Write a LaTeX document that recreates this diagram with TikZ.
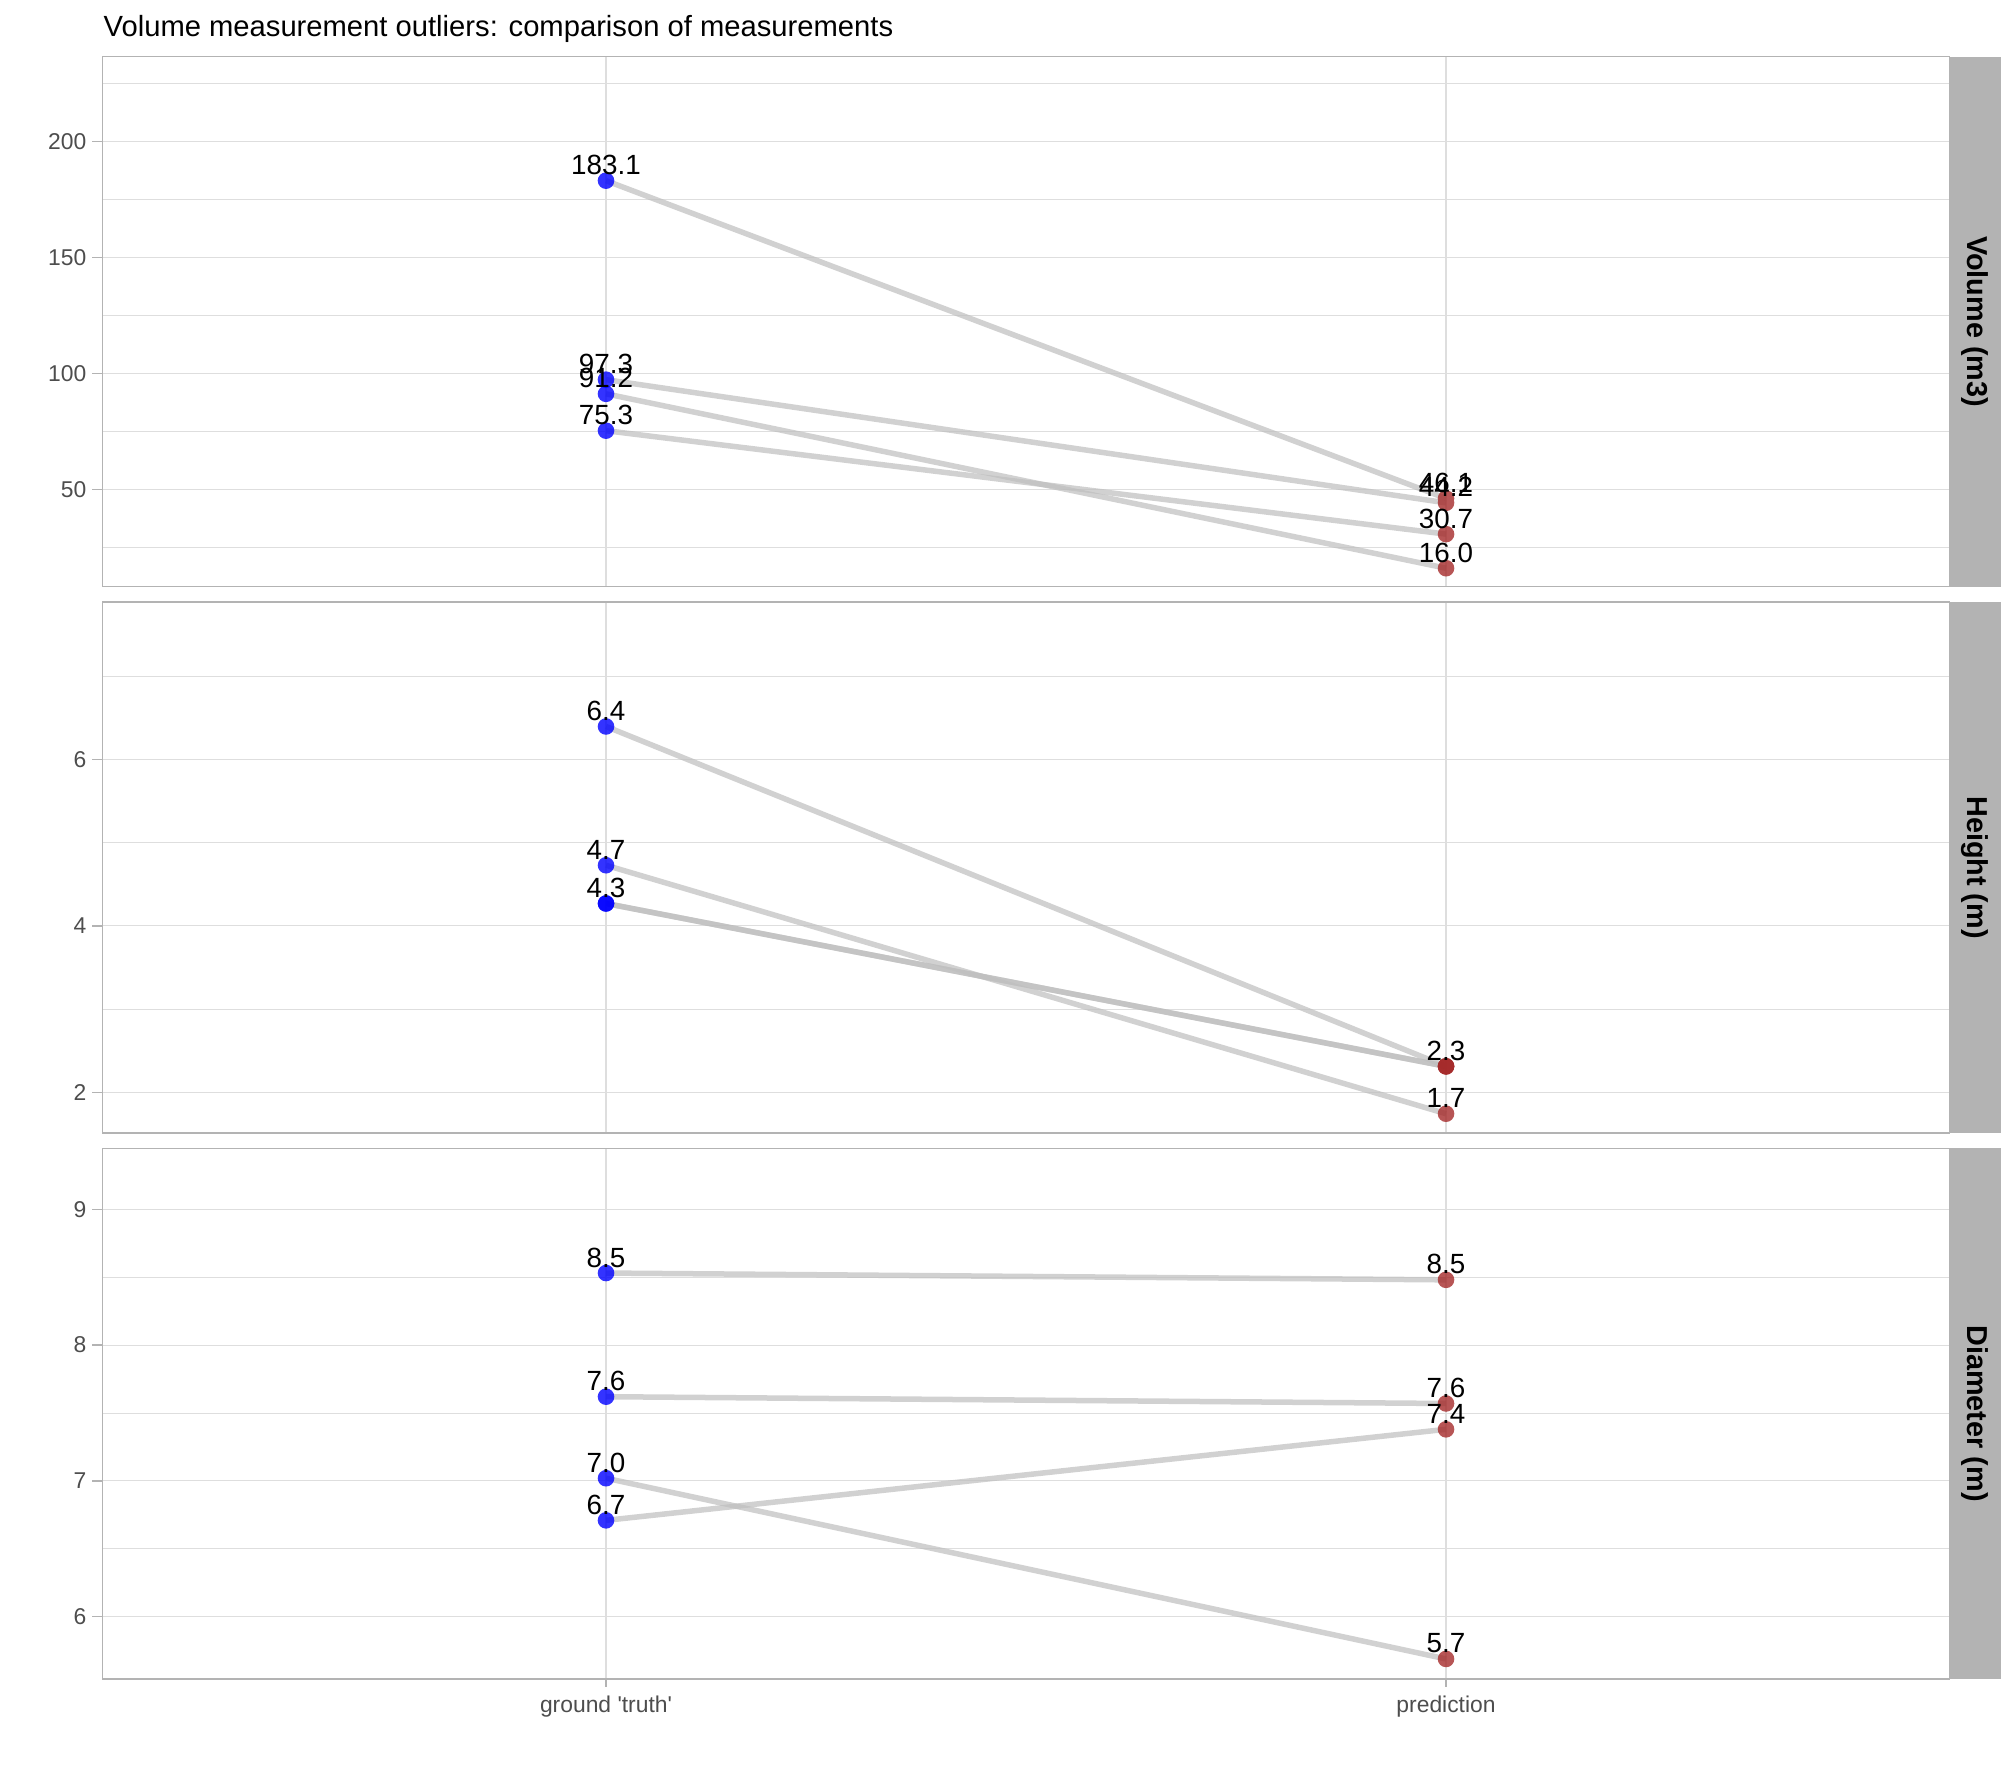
\documentclass[tikz,border=0pt]{standalone}
\usepackage{fontspec}
\setmainfont{Liberation Sans}
\usepackage{tikz}
\definecolor{gtblue}{RGB}{0,0,255}
\definecolor{prbrown}{RGB}{165,42,42}
\definecolor{seggray}{RGB}{190,190,190}
\definecolor{gridgray}{RGB}{222,222,222}
\definecolor{framegray}{RGB}{179,179,179}
\definecolor{ticktext}{RGB}{77,77,77}
\tikzstyle{frame} = [draw=framegray, line width=0.013cm]
\tikzstyle{strip} = [fill=framegray]
\tikzstyle{major} = [draw=gridgray, line width=0.011cm]
\tikzstyle{minor} = [draw=gridgray, line width=0.009cm]
\tikzstyle{tick} = [draw=framegray, line width=0.012cm]
\tikzstyle{seg} = [draw=seggray, draw opacity=0.7, line width=0.055cm]
\tikzstyle{gt} = [fill=gtblue, fill opacity=0.8]
\tikzstyle{pr} = [fill=prbrown, fill opacity=0.8]
\tikzstyle{lbl} = [anchor=base, inner sep=0pt, yshift=0.06cm, font=\fontsize{7.9}{9}\selectfont]
\tikzstyle{ytick} = [anchor=east, inner sep=0pt, text=ticktext, font=\fontsize{6.5}{8}\selectfont]
\tikzstyle{xtick} = [anchor=base, inner sep=0pt, text=ticktext, font=\fontsize{6.5}{8}\selectfont]
\tikzstyle{title} = [anchor=base west, inner sep=0pt, font=\fontsize{8.3}{10}\selectfont]
\tikzstyle{striptext} = [rotate=-90, inner sep=0pt, font=\bfseries\fontsize{8.2}{10}\selectfont]

\begin{document}
\begin{tikzpicture}[x=0.01cm,y=0.01cm]
  \def\xl{102.7}
  \def\xr{1949.3}
  \def\xg{606}
  \def\xp{1446}
  \useasboundingbox (0,0) rectangle (2016,1766);
  \node[title] (title) at (103,1729) {Volume measurement outliers: comparison of measurements};

  % volume panel
  \begin{scope}[yshift=11.6cm,y=0.02318cm]
    \draw[minor] (\xl,25) -- (\xr,25) (\xl,75) -- (\xr,75) (\xl,125) -- (\xr,125) (\xl,175) -- (\xr,175) (\xl,225) -- (\xr,225);
    \draw[major] (\xl,50) -- (\xr,50) (\xl,100) -- (\xr,100) (\xl,150) -- (\xr,150) (\xl,200) -- (\xr,200);
    \draw[major] (\xg,8.1) -- (\xg,236.5) (\xp,8.1) -- (\xp,236.5);
    \draw[tick] (92.4,50) -- (\xl,50) (92.4,100) -- (\xl,100) (92.4,150) -- (\xl,150) (92.4,200) -- (\xl,200);
    \node[ytick] (v50) at (87,50) {50};
    \node[ytick] (v100) at (87,100) {100};
    \node[ytick] (v150) at (87,150) {150};
    \node[ytick] (v200) at (87,200) {200};
    \coordinate (v1g) at (\xg,183.1);
    \coordinate (v2g) at (\xg,97.3);
    \coordinate (v3g) at (\xg,91.2);
    \coordinate (v4g) at (\xg,75.3);
    \coordinate (v1p) at (\xp,46.1);
    \coordinate (v2p) at (\xp,44.2);
    \coordinate (v3p) at (\xp,16.0);
    \coordinate (v4p) at (\xp,30.7);
    \draw[seg] (v1g) -- (v1p);
    \draw[seg] (v2g) -- (v2p);
    \draw[seg] (v3g) -- (v3p);
    \draw[seg] (v4g) -- (v4p);
    \fill[gt] (v1g) circle (0.083cm) (v2g) circle (0.083cm);
    \fill[gt] (v3g) circle (0.083cm) (v4g) circle (0.083cm);
    \fill[pr] (v1p) circle (0.083cm) (v2p) circle (0.083cm);
    \fill[pr] (v3p) circle (0.083cm) (v4p) circle (0.083cm);
    \node[lbl] (v1gt) at (v1g) {183.1};
    \node[lbl] (v2gt) at (v2g) {97.3};
    \node[lbl] (v3gt) at (v3g) {91.2};
    \node[lbl] (v4gt) at (v4g) {75.3};
    \node[lbl] (v1pt) at (v1p) {46.1};
    \node[lbl] (v2pt) at (v2p) {44.2};
    \node[lbl] (v3pt) at (v3p) {16.0};
    \node[lbl] (v4pt) at (v4p) {30.7};
    \fill[strip] (\xr,8.1) rectangle (2001,236.5);
    \draw[frame] (\xl,8.1) rectangle (\xr,236.5);
    \node[striptext] (vstrip) at (1975,122.3) {Volume (m3)};
  \end{scope}

  % height panel
  \begin{scope}[yshift=5.074cm,y=0.8305cm]
    \draw[minor] (\xl,3) -- (\xr,3) (\xl,5) -- (\xr,5) (\xl,7) -- (\xr,7);
    \draw[major] (\xl,2) -- (\xr,2) (\xl,4) -- (\xr,4) (\xl,6) -- (\xr,6);
    \draw[major] (\xg,1.5075) -- (\xg,7.899) (\xp,1.5075) -- (\xp,7.899);
    \draw[tick] (92.4,2) -- (\xl,2) (92.4,4) -- (\xl,4) (92.4,6) -- (\xl,6);
    \node[ytick] (h2) at (87,2) {2};
    \node[ytick] (h4) at (87,4) {4};
    \node[ytick] (h6) at (87,6) {6};
    \coordinate (h1g) at (\xg,6.40);
    \coordinate (h2g) at (\xg,4.73);
    \coordinate (h3g) at (\xg,4.27);
    \coordinate (h4g) at (\xg,4.27);
    \coordinate (h1p) at (\xp,2.31);
    \coordinate (h2p) at (\xp,1.74);
    \coordinate (h3p) at (\xp,2.31);
    \coordinate (h4p) at (\xp,2.31);
    \draw[seg] (h1g) -- (h1p);
    \draw[seg] (h2g) -- (h2p);
    \draw[seg] (h3g) -- (h3p);
    \draw[seg] (h4g) -- (h4p);
    \fill[gt] (h1g) circle (0.083cm) (h2g) circle (0.083cm);
    \fill[gt] (h3g) circle (0.083cm);
    \fill[gt] (h4g) circle (0.083cm);
    \fill[pr] (h1p) circle (0.083cm) (h2p) circle (0.083cm);
    \fill[pr] (h3p) circle (0.083cm);
    \fill[pr] (h4p) circle (0.083cm);
    \node[lbl] (h1gt) at (h1g) {6.4};
    \node[lbl] (h2gt) at (h2g) {4.7};
    \node[lbl] (h3gt) at (h3g) {4.3};
    \node[lbl] (h1pt) at (h1p) {2.3};
    \node[lbl] (h2pt) at (h2p) {1.7};
    \fill[strip] (\xr,1.5075) rectangle (2001,7.899);
    \draw[frame] (\xl,1.5075) rectangle (\xr,7.899);
    \node[striptext] (hstrip) at (1975,4.703) {Height (m)};
  \end{scope}

  % diameter panel
  \begin{scope}[yshift=-6.657cm,y=1.358cm]
    \draw[minor] (\xl,6.5) -- (\xr,6.5) (\xl,7.5) -- (\xr,7.5) (\xl,8.5) -- (\xr,8.5);
    \draw[major] (\xl,6) -- (\xr,6) (\xl,7) -- (\xr,7) (\xl,8) -- (\xr,8) (\xl,9) -- (\xr,9);
    \draw[major] (\xg,5.543) -- (\xg,9.449) (\xp,5.543) -- (\xp,9.449);
    \draw[tick] (92.4,6) -- (\xl,6) (92.4,7) -- (\xl,7) (92.4,8) -- (\xl,8) (92.4,9) -- (\xl,9);
    \node[ytick] (d6) at (87,6) {6};
    \node[ytick] (d7) at (87,7) {7};
    \node[ytick] (d8) at (87,8) {8};
    \node[ytick] (d9) at (87,9) {9};
    \coordinate (d1g) at (\xg,8.53);
    \coordinate (d2g) at (\xg,7.62);
    \coordinate (d3g) at (\xg,7.02);
    \coordinate (d4g) at (\xg,6.71);
    \coordinate (d1p) at (\xp,8.48);
    \coordinate (d2p) at (\xp,7.57);
    \coordinate (d3p) at (\xp,5.69);
    \coordinate (d4p) at (\xp,7.38);
    \draw[seg] (d1g) -- (d1p);
    \draw[seg] (d2g) -- (d2p);
    \draw[seg] (d3g) -- (d3p);
    \draw[seg] (d4g) -- (d4p);
    \fill[gt] (d1g) circle (0.083cm) (d2g) circle (0.083cm);
    \fill[gt] (d3g) circle (0.083cm) (d4g) circle (0.083cm);
    \fill[pr] (d1p) circle (0.083cm) (d2p) circle (0.083cm);
    \fill[pr] (d3p) circle (0.083cm) (d4p) circle (0.083cm);
    \node[lbl] (d1gt) at (d1g) {8.5};
    \node[lbl] (d2gt) at (d2g) {7.6};
    \node[lbl] (d3gt) at (d3g) {7.0};
    \node[lbl] (d4gt) at (d4g) {6.7};
    \node[lbl] (d1pt) at (d1p) {8.5};
    \node[lbl] (d2pt) at (d2p) {7.6};
    \node[lbl] (d3pt) at (d3p) {5.7};
    \node[lbl] (d4pt) at (d4p) {7.4};
    \fill[strip] (\xr,5.543) rectangle (2001,9.449);
    \draw[frame] (\xl,5.543) rectangle (\xr,9.449);
    \node[striptext] (dstrip) at (1975,7.496) {Diameter (m)};
  \end{scope}

  \draw[tick] (\xg,87.1) -- (\xg,79.5) (\xp,87.1) -- (\xp,79.5);
  \node[xtick] (xg) at (\xg,53.2) {ground \textquotesingle truth\textquotesingle};
  \node[xtick] (xp) at (\xp,53.2) {prediction};
\end{tikzpicture}
\end{document}
